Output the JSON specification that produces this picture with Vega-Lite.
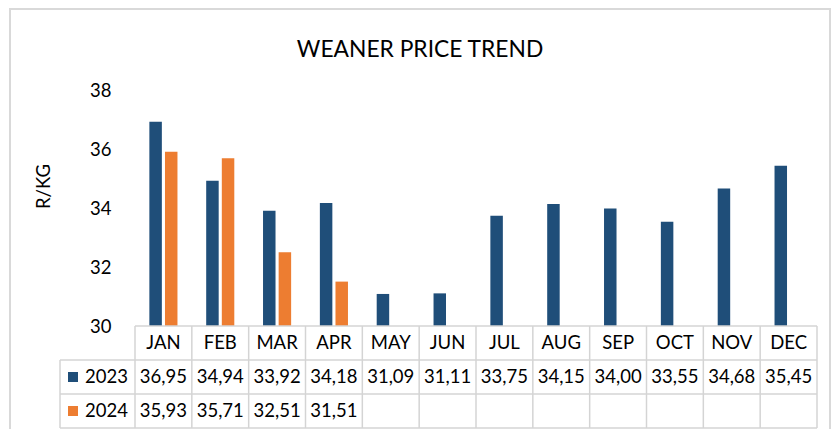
{
  "$schema": "https://vega.github.io/schema/vega-lite/v6.json",
  "width": 820,
  "height": 430,
  "autosize": {"type": "none"},
  "padding": {"left": 10, "top": 9, "right": 2, "bottom": 0},
  "background": "white",
  "config": {
    "locale": {"number": {"decimal": ",", "thousands": " ", "grouping": [3], "currency": ["R", ""]}},
    "view": {"stroke": "#d9d9d9", "strokeWidth": 2},
    "font": "Lato",
    "text": {"font": "Lato", "fontSize": 18.5, "color": "#000000"}
  },
  "title": {
    "text": "WEANER PRICE TREND",
    "font": "Lato",
    "fontSize": 22.8,
    "fontWeight": "normal",
    "color": "#000000",
    "anchor": "middle",
    "baseline": "alphabetic",
    "offset": -71
  },
  "data": {
    "values": [
      {"month": "JAN", "year": "2023", "price": 36.95},
      {"month": "FEB", "year": "2023", "price": 34.94},
      {"month": "MAR", "year": "2023", "price": 33.92},
      {"month": "APR", "year": "2023", "price": 34.18},
      {"month": "MAY", "year": "2023", "price": 31.09},
      {"month": "JUN", "year": "2023", "price": 31.11},
      {"month": "JUL", "year": "2023", "price": 33.75},
      {"month": "AUG", "year": "2023", "price": 34.15},
      {"month": "SEP", "year": "2023", "price": 34.00},
      {"month": "OCT", "year": "2023", "price": 33.55},
      {"month": "NOV", "year": "2023", "price": 34.68},
      {"month": "DEC", "year": "2023", "price": 35.45},
      {"month": "JAN", "year": "2024", "price": 35.93},
      {"month": "FEB", "year": "2024", "price": 35.71},
      {"month": "MAR", "year": "2024", "price": 32.51},
      {"month": "APR", "year": "2024", "price": 31.51}
    ]
  },
  "layer": [
    {
      "mark": {"type": "bar"},
      "encoding": {
        "x": {
          "field": "month", "type": "nominal",
          "sort": ["JAN","FEB","MAR","APR","MAY","JUN","JUL","AUG","SEP","OCT","NOV","DEC"],
          "scale": {"domain": ["JAN","FEB","MAR","APR","MAY","JUN","JUL","AUG","SEP","OCT","NOV","DEC"], "range": [125, 807], "paddingInner": 0, "paddingOuter": 0},
          "axis": null
        },
        "xOffset": {
          "field": "year", "type": "nominal",
          "scale": {"domain": ["2023", "2024"], "paddingInner": 0.2, "paddingOuter": 0.92}
        },
        "y": {
          "field": "price", "type": "quantitative",
          "scale": {"domain": [30, 38], "range": [317, 81.8], "zero": false, "nice": false},
          "axis": {
            "values": [30, 32, 34, 36, 38],
            "format": "d",
            "offset": -101,
            "domain": false,
            "ticks": false,
            "grid": false,
            "labelPadding": 0,
            "labelFont": "Lato",
            "labelFontSize": 18.5,
            "labelColor": "#000000",
            "title": "R/KG",
            "titleFont": "Lato",
            "titleFontSize": 18.5,
            "titleFontWeight": "normal",
            "titleColor": "#000000",
            "titleX": -67.5,
            "titleY": 177,
            "titleAngle": 270,
            "titleAlign": "center",
            "titleBaseline": "middle"
          }
        },
        "y2": {"datum": 30},
        "color": {
          "field": "year", "type": "nominal",
          "scale": {"domain": ["2023", "2024"], "range": ["#1F4E79", "#ED7D31"]},
          "legend": null
        }
      }
    },
    {
      "layer": [
        {
          "transform": [{"filter": "datum.year == '2023'"}],
          "mark": {"type": "rule", "color": "#d4d4d4", "strokeWidth": 1.5},
          "encoding": {
            "x": {"field": "month", "type": "nominal", "bandPosition": 0},
            "y": {"datum": "hdr", "type": "nominal", "bandPosition": 0, "scale": {"domain": ["hdr", "2023", "2024"], "range": [317, 419], "paddingInner": 0, "paddingOuter": 0}, "axis": null},
            "y2": {"datum": "2024", "bandPosition": 1}
          }
        },
        {
          "transform": [{"filter": "datum.year == '2023' && datum.month == 'DEC'"}],
          "mark": {"type": "rule", "color": "#d4d4d4", "strokeWidth": 1.5},
          "encoding": {
            "x": {"field": "month", "type": "nominal", "bandPosition": 1},
            "y": {"datum": "hdr", "type": "nominal", "bandPosition": 0},
            "y2": {"datum": "2024", "bandPosition": 1}
          }
        },
        {
          "transform": [{"filter": "datum.year == '2023' && datum.month == 'JAN'"}],
          "mark": {"type": "rule", "color": "#d4d4d4", "strokeWidth": 1.5},
          "encoding": {
            "x": {"field": "month", "type": "nominal", "bandPosition": 0},
            "x2": {"datum": "DEC", "bandPosition": 1},
            "y": {"datum": "hdr", "type": "nominal", "bandPosition": 0}
          }
        },
        {
          "transform": [{"filter": "datum.month == 'JAN'"}],
          "mark": {"type": "rule", "color": "#d4d4d4", "strokeWidth": 1.5, "xOffset": -75},
          "encoding": {
            "x": {"field": "month", "type": "nominal", "bandPosition": 0},
            "x2": {"datum": "DEC", "bandPosition": 1},
            "y": {"field": "year", "type": "nominal", "bandPosition": 0}
          }
        },
        {
          "transform": [{"filter": "datum.month == 'JAN' && datum.year == '2024'"}],
          "mark": {"type": "rule", "color": "#d4d4d4", "strokeWidth": 1.5, "xOffset": -75},
          "encoding": {
            "x": {"field": "month", "type": "nominal", "bandPosition": 0},
            "x2": {"datum": "DEC", "bandPosition": 1},
            "y": {"field": "year", "type": "nominal", "bandPosition": 1}
          }
        },
        {
          "transform": [{"filter": "datum.month == 'JAN' && datum.year == '2023'"}],
          "mark": {"type": "rule", "color": "#d4d4d4", "strokeWidth": 1.5, "xOffset": -75},
          "encoding": {
            "x": {"field": "month", "type": "nominal", "bandPosition": 0},
            "y": {"datum": "2023", "type": "nominal", "bandPosition": 0},
            "y2": {"datum": "2024", "bandPosition": 1}
          }
        },
        {
          "transform": [{"filter": "datum.year == '2023'"}],
          "mark": {"type": "text", "align": "center", "baseline": "middle"},
          "encoding": {
            "x": {"field": "month", "type": "nominal"},
            "y": {"datum": "hdr", "type": "nominal"},
            "text": {"field": "month"}
          }
        },
        {
          "mark": {"type": "text", "align": "center", "baseline": "middle"},
          "encoding": {
            "x": {"field": "month", "type": "nominal"},
            "y": {"field": "year", "type": "nominal"},
            "text": {"field": "price", "format": ".2f"}
          }
        },
        {
          "transform": [{"filter": "datum.month == 'JAN'"}],
          "mark": {"type": "point", "shape": "square", "filled": true, "size": 100, "opacity": 1, "xOffset": -62},
          "encoding": {
            "x": {"field": "month", "type": "nominal", "bandPosition": 0},
            "y": {"field": "year", "type": "nominal"},
            "color": {"field": "year", "type": "nominal", "legend": null}
          }
        },
        {
          "transform": [{"filter": "datum.month == 'JAN'"}],
          "mark": {"type": "text", "align": "left", "baseline": "middle", "xOffset": -50},
          "encoding": {
            "x": {"field": "month", "type": "nominal", "bandPosition": 0},
            "y": {"field": "year", "type": "nominal"},
            "text": {"field": "year"}
          }
        }
      ]
    }
  ],
  "resolve": {"scale": {"y": "independent"}, "axis": {"y": "independent"}}
}
